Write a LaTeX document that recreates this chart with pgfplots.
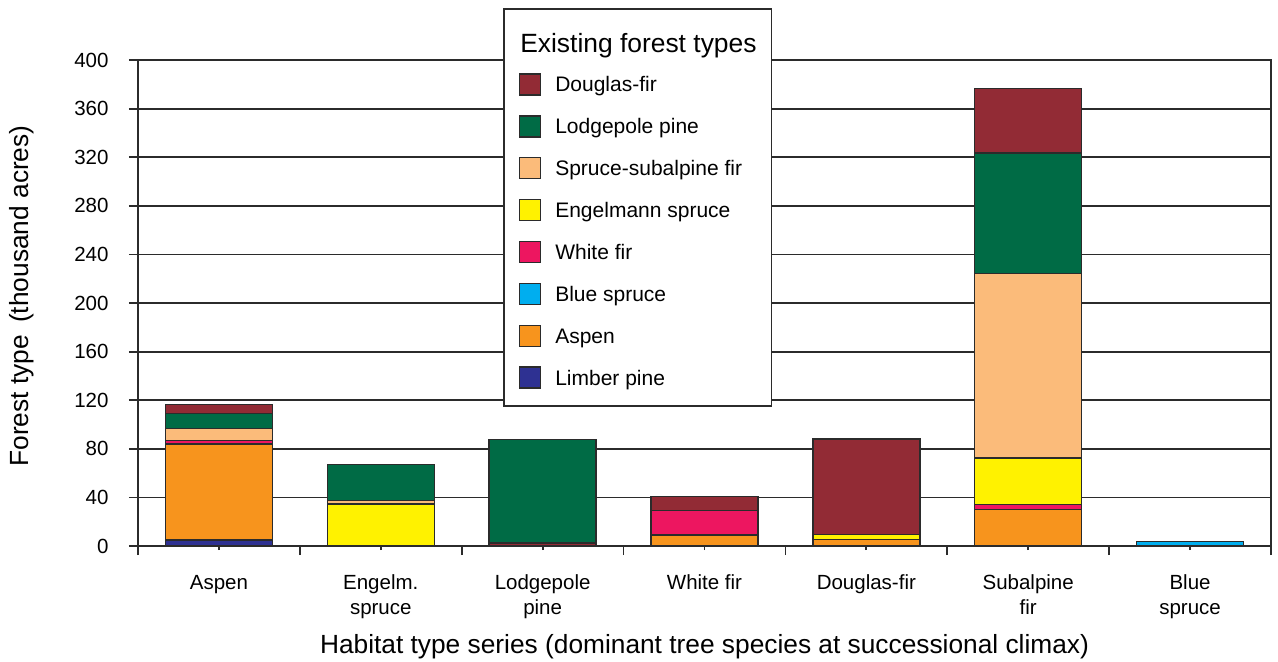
\documentclass[border=0pt]{standalone}
\usepackage{fontspec}
\setmainfont{Liberation Sans}
\usepackage{pgfplots}
\pgfplotsset{compat=1.18}
\definecolor{cDF}{HTML}{922B35}
\definecolor{cLP}{HTML}{006B45}
\definecolor{cSS}{HTML}{FBBB7A}
\definecolor{cES}{HTML}{FFF200}
\definecolor{cWF}{HTML}{ED1660}
\definecolor{cBS}{HTML}{00AEEF}
\definecolor{cAS}{HTML}{F7941D}
\definecolor{cLB}{HTML}{2E3192}
\definecolor{edge}{HTML}{2B2B2B}
\pgfplotsset{lg/.style={legend image code/.code={\draw[##1,draw=edge,line width=1.5pt] (0pt,-3pt) rectangle (21pt,18pt);}}}
\begin{document}
\begin{tikzpicture}
\begin{axis}[
  width=1133pt, height=486pt, scale only axis,
  ybar stacked, bar width=107pt,
  xmin=-0.5, xmax=6.5, ymin=0, ymax=400,
  xtick={0,...,6},
  xticklabels={Aspen, Engelm.\\spruce, Lodgepole\\pine, White fir, Douglas-fir, Subalpine\\fir, Blue\\spruce},
  xticklabel style={align=center, font=\fontsize{20.5}{24.5}\selectfont, yshift=-16.5pt},
  minor xtick={-0.5,0.5,...,6.5},
  ytick={0,40,...,400},
  yticklabel style={font=\fontsize{20.5}{24}\selectfont, xshift=-17pt},
  /pgf/number format/assume math mode=true,
  tick align=outside, xtick pos=left, ytick pos=left,
  major tick length=9pt, minor tick length=9pt,
  xtick style={/pgfplots/major tick length=4pt},
  ymajorgrids, grid style={edge, line width=1.8pt},
  axis line style={edge, line width=1.8pt},
  tick style={edge, line width=1.8pt},
  every axis plot/.append style={draw=edge, line width=1.3pt},
  xlabel={Habitat type series (dominant tree species at successional climax)},
  ylabel={Forest type\hspace{5pt} (thousand acres)},
  label style={font=\fontsize{26.3}{30}\selectfont, inner sep=0pt},
  xlabel style={at={(axis description cs:0.5,-0.2202)}, anchor=base},
  ylabel style={at={(axis description cs:-0.1139,0.5144)}, anchor=north},
  reverse legend,
  legend cell align=left,
  legend style={at={(0.3222,1.107)}, anchor=north west, draw=edge, line width=1.5pt,
    font=\fontsize{21}{25}\selectfont, inner xsep=15pt, inner ysep=17pt, row sep=19.4pt,
    nodes={inner sep=0pt, anchor=base west},
    /tikz/every odd column/.append style={column sep=14pt}},
]
\addplot[fill=cDF, forget plot] coordinates {(0,0) (1,0) (2,2.5) (3,0) (4,0) (5,0) (6,0)};
\addplot[fill=cLB, lg] coordinates {(0,5) (1,0) (2,0) (3,0) (4,0) (5,0) (6,0)};
\addlegendentry{Limber pine}
\addplot[fill=cAS, lg] coordinates {(0,79) (1,0) (2,0) (3,9) (4,5.5) (5,30) (6,0)};
\addlegendentry{Aspen}
\addplot[fill=cBS, lg] coordinates {(0,0) (1,0) (2,0) (3,0) (4,0) (5,0) (6,4)};
\addlegendentry{Blue spruce}
\addplot[fill=cWF, lg] coordinates {(0,3) (1,0) (2,0) (3,20.5) (4,0) (5,4) (6,0)};
\addlegendentry{White fir}
\addplot[fill=cES, lg] coordinates {(0,0) (1,34.5) (2,0) (3,0) (4,4) (5,38.5) (6,0)};
\addlegendentry{Engelmann spruce}
\addplot[fill=cSS, lg] coordinates {(0,9.5) (1,2.8) (2,0) (3,0) (4,0) (5,152) (6,0)};
\addlegendentry{Spruce-subalpine fir}
\addplot[fill=cLP, lg] coordinates {(0,12.5) (1,29.6) (2,85.3) (3,0) (4,0) (5,99) (6,0)};
\addlegendentry{Lodgepole pine}
\addplot[fill=cDF, lg] coordinates {(0,7.7) (1,0) (2,0) (3,11.4) (4,78.5) (5,53) (6,0)};
\addlegendentry{Douglas-fir}
\addlegendimage{empty legend}
\addlegendentry{\hspace*{-35pt}\rule{0pt}{26.5pt}\fontsize{26.4}{30}\selectfont Existing forest types}
\coordinate (bl) at (rel axis cs:-0.1218,-0.2366);
\coordinate (tr) at (rel axis cs:1.00618,1.1235);
\end{axis}
\pgfresetboundingbox
\path[use as bounding box] (bl) rectangle (tr);
\end{tikzpicture}
\end{document}
